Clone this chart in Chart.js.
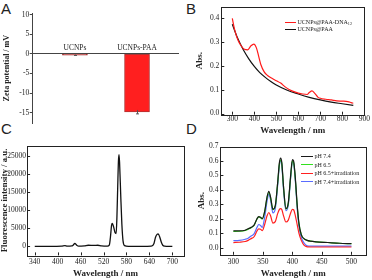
<!DOCTYPE html>
<html><head><meta charset="utf-8">
<script src="https://cdn.jsdelivr.net/npm/chart.js@4.4.1/dist/chart.umd.min.js"></script>
<style>
html,body{margin:0;padding:0;background:#fff;width:372px;height:280px;overflow:hidden}
.p{position:absolute}
.lbl{position:absolute;font-family:"Liberation Sans",Arial,sans-serif;font-size:15px;color:#222;line-height:1}
.leg{position:absolute;font-family:"Liberation Serif",serif;color:#222;line-height:1}
.leg .row{position:absolute;left:0;display:flex;align-items:center;white-space:nowrap}
.leg .ln{display:inline-block;height:0;border-top:1.3px solid;margin-right:1.5px}
.leg sub{font-size:0.7em;vertical-align:-0.15em;line-height:0}
</style></head><body>
<div class="lbl" style="left:1px;top:1px">A</div>
<div class="lbl" style="left:186px;top:1px">B</div>
<div class="lbl" style="left:1px;top:121px">C</div>
<div class="lbl" style="left:186px;top:121px">D</div>
<div class="p" style="left:0;top:0"><canvas id="cA" width="186" height="140"></canvas></div>
<div class="p" style="left:186px;top:0"><canvas id="cB" width="186" height="140"></canvas></div>
<div class="p" style="left:0;top:140px"><canvas id="cC" width="186" height="140"></canvas></div>
<div class="p" style="left:186px;top:140px"><canvas id="cD" width="186" height="140"></canvas></div>
<div class="leg" id="legB" style="left:285px;top:19px;font-size:6px"></div>
<div class="leg" id="legD" style="left:301px;top:153px;font-size:6px"></div>
<script>
// ---------- Panel A: zeta potential ----------
const zetaCategories = ['UCNPs', 'UCNPs-PAA'];
const zetaValues = [-0.3, -14.8];
const zetaErrors = [0.1, 0.5];
const zetaTicks = [10, 5, 0, -5, -10, -15];

// ---------- Panel B: absorption ----------
const absRedX = [300,310,325,340,355,370,385,398,410,420,430,445,460,480,500,520,540,560,580,600,620,640,650,662,675,690,700,725,750,775,800,825,840,850];
const absRedY = [0.40,0.355,0.31,0.285,0.27,0.268,0.285,0.292,0.275,0.24,0.205,0.175,0.16,0.148,0.138,0.128,0.112,0.10,0.092,0.086,0.082,0.080,0.088,0.095,0.085,0.068,0.064,0.060,0.057,0.053,0.052,0.050,0.046,0.043];
const absBlackX = [300,325,350,375,400,425,450,475,500,550,600,650,700,750,800,850];
const absBlackY = [0.375,0.315,0.268,0.23,0.198,0.172,0.152,0.135,0.12,0.098,0.082,0.068,0.057,0.048,0.041,0.034];
const absBLabels = ['UCNPs@PAA-DNA12', 'UCNPs@PAA'];
const absBXTicks = [300,400,500,600,700,800,900];
const absBYTicks = [0,0.1,0.2,0.3,0.4];

// ---------- Panel C: fluorescence ----------
const flX = [340,380,410,419,425,437,441,445,449,455,470,480,495,505,515,530,535,538,541,543,546,550,553,555,557,559,560.5,562,565,568,571,575,585,620,645,652,656,660,663,667,671,675,680,690,700];
const flY = [0,0,50,200,50,100,400,800,400,50,150,300,250,300,100,50,300,2500,5800,6300,5500,3800,3500,8000,16000,23500,25300,23000,14000,6000,1500,200,0,0,50,800,2500,3300,3400,2600,1200,300,50,0,0];
const flXTicks = [340,400,460,520,580,640,700];
const flYTicks = [0,5000,10000,15000,20000,25000];

// ---------- Panel D: pH absorption ----------
const phX = [300,310,320,325,330,335,340,343,346,349,353,357,360,363,367,371,375,378,380,382,385,389,393,397,400,402,405,408,411,415,420,425,430,440,460,480,500];
const ph74 = [.115,.115,.12,.13,.14,.155,.2,.215,.21,.2,.25,.35,.39,.35,.265,.29,.45,.59,.62,.59,.42,.27,.31,.5,.61,.6,.48,.3,.17,.09,.06,.05,.045,.04,.035,.03,.027];
const ph65 = [.112,.113,.118,.128,.138,.153,.198,.212,.207,.198,.248,.345,.383,.345,.262,.288,.445,.58,.605,.58,.415,.268,.305,.49,.6,.59,.47,.295,.168,.09,.06,.05,.045,.04,.035,.03,.027];
const ph65irr = [.035,.037,.042,.05,.062,.075,.115,.13,.127,.118,.16,.22,.243,.22,.17,.18,.235,.265,.27,.263,.22,.177,.19,.24,.265,.262,.22,.16,.1,.05,.015,.005,.004,.004,.004,.004,.004];
const ph74irr = [.048,.05,.058,.065,.08,.095,.14,.16,.153,.14,.21,.32,.37,.33,.24,.27,.43,.57,.6,.57,.4,.255,.295,.48,.595,.585,.46,.28,.15,.07,.03,.012,.01,.01,.01,.01,.01];
const phLabels = ['pH 7.4', 'pH 6.5', 'pH 6.5+irradiation', 'pH 7.4+irradiation'];
const phXTicks = [300,350,400,450,500];
const phYTicks = [0,0.1,0.2,0.3,0.4,0.5,0.6,0.7];

const SERIF = "'Liberation Serif','Times New Roman',serif";
Chart.defaults.font.family = SERIF;
Chart.defaults.color = '#222';
Chart.defaults.animation = false;
Chart.defaults.plugins.legend.display = false;
Chart.defaults.plugins.tooltip.enabled = false;

const pts = (xs, ys) => xs.map((x, i) => ({x, y: ys[i]}));
const setTicks = arr => s => { s.ticks = arr.map(v => ({value: v})); };

const framePlugin = {
  id: 'frame',
  afterDatasetsDraw(chart) {
    const {ctx, chartArea: a, scales: {x, y}} = chart;
    ctx.save();
    ctx.strokeStyle = '#222';
    ctx.lineWidth = 1;
    ctx.beginPath();
    x.ticks.forEach(t => { const p = Math.round(x.getPixelForValue(t.value)) + 0.5; ctx.moveTo(p, a.bottom); ctx.lineTo(p, a.bottom - 3); });
    y.ticks.forEach(t => { const p = Math.round(y.getPixelForValue(t.value)) + 0.5; ctx.moveTo(a.left, p); ctx.lineTo(a.left + 3, p); });
    ctx.stroke();
    ctx.strokeRect(Math.round(a.left) + 0.5, Math.round(a.top) + 0.5, Math.round(a.right - a.left), Math.round(a.bottom - a.top));
    ctx.restore();
  }
};

function frameScales(o) {
  return {
    x: {
      type: 'linear', min: o.xmin, max: o.xmax,
      afterBuildTicks: setTicks(o.xticks),
      afterFit: s => { s.height = o.xh; },
      grid: {display: false, drawTicks: false}, border: {display: false},
      ticks: {font: {size: 7.5}, padding: o.xpad, maxRotation: 0, autoSkip: false, color: '#222', callback: v => String(v)},
      title: {display: true, text: 'Wavelength / nm', font: {size: 9, weight: 'bold'}, color: '#222', padding: {top: 0, bottom: o.xtp}}
    },
    y: {
      type: 'linear', min: o.ymin, max: o.ymax,
      afterBuildTicks: setTicks(o.yticks),
      afterFit: s => { s.width = o.yw; },
      grid: {display: false, drawTicks: false}, border: {display: false},
      ticks: {font: {size: 7.5}, padding: o.ypad, autoSkip: false, color: '#222', callback: o.yfmt},
      title: {display: true, text: o.ytitle, font: {size: o.yts || 9, weight: 'bold'}, color: '#222', padding: {top: o.ytp, bottom: 0}}
    }
  };
}

// ---- A ----
const errPlugin = {
  id: 'err',
  afterDatasetsDraw(chart) {
    const {ctx, scales: {x, y}} = chart;
    ctx.save(); ctx.strokeStyle = '#555'; ctx.lineWidth = 1; ctx.beginPath();
    zetaValues.forEach((v, i) => {
      const px = Math.round(x.getPixelForValue(i + 1)) + 0.5;
      const y1 = y.getPixelForValue(v - zetaErrors[i]), y2 = y.getPixelForValue(v + zetaErrors[i]);
      ctx.moveTo(px, y1); ctx.lineTo(px, y2);
      ctx.moveTo(px - 1.5, y1); ctx.lineTo(px + 1.5, y1);
    });
    ctx.stroke(); ctx.restore();
  }
};
new Chart(document.getElementById('cA'), {
  type: 'bar',
  data: {datasets: [{
    data: zetaValues.map((v, i) => ({x: i + 1, y: v})),
    backgroundColor: ['#c43a3a', '#ff1f1f'],
    borderColor: ['#a02828', '#b03434'],
    borderWidth: 1, barThickness: 25, borderSkipped: false
  }]},
  options: {
    responsive: false,
    layout: {padding: {top: 13.1, right: 8, bottom: 16.7, left: 0}},
    scales: {
      x: {
        type: 'linear', position: {y: 0}, min: 0.32, max: 2.66, offset: false,
        afterBuildTicks: s => { s.ticks = zetaCategories.map((c, i) => ({value: i + 1})); },
        grid: {display: false, drawTicks: false, offset: false},
        border: {display: true, color: '#444', width: 1},
        ticks: {font: {size: 7.5}, padding: -10.5, color: '#222', autoSkip: false, maxRotation: 0,
          callback: v => zetaCategories[v - 1] || ''}
      },
      y: {
        type: 'linear', min: -17.7, max: 10.4,
        afterBuildTicks: setTicks(zetaTicks),
        afterFit: s => { s.width = 32.7; },
        grid: {drawOnChartArea: false, tickLength: 3, color: '#444'},
        border: {display: true, color: '#444', width: 1},
        ticks: {font: {size: 7.5}, padding: 0.5, color: '#222'},
        title: {display: true, text: 'Zeta potential / mV', font: {size: 8, weight: 'bold'}, color: '#222', padding: {top: 2.2, bottom: 0}}
      }
    }
  },
  plugins: [errPlugin]
});

// ---- B ----
const chartB = new Chart(document.getElementById('cB'), {
  type: 'line',
  data: {datasets: [
    {label: absBLabels[0], data: pts(absRedX, absRedY), borderColor: '#ff1a1a', borderWidth: 1.2, pointRadius: 0, cubicInterpolationMode: 'monotone'},
    {label: absBLabels[1], data: pts(absBlackX, absBlackY), borderColor: '#111', borderWidth: 1.2, pointRadius: 0, cubicInterpolationMode: 'monotone'}
  ]},
  options: {
    responsive: false,
    layout: {padding: {top: 2.8, right: 7.7, bottom: 0, left: 0}},
    scales: frameScales({xmin: 250, xmax: 900, xticks: absBXTicks, xh: 25.3, xpad: 0, xtp: 3.6,
      ymin: -0.005, ymax: 0.45, yticks: absBYTicks, yw: 35.3, ypad: 2, ytp: 8.2, ytitle: 'Abs.', yfmt: v => v.toFixed(1)})
  },
  plugins: [framePlugin]
});

// ---- C ----
new Chart(document.getElementById('cC'), {
  type: 'line',
  data: {datasets: [
    {label: 'Fluorescence', data: pts(flX, flY), borderColor: '#111', borderWidth: 1.3, pointRadius: 0, cubicInterpolationMode: 'monotone'}
  ]},
  options: {
    responsive: false,
    layout: {padding: {top: 1.6, right: 2.2, bottom: 0, left: 0}},
    scales: frameScales({xmin: 320, xmax: 730, xticks: flXTicks, xh: 24.6, xpad: 2.4, xtp: 1,
      ymin: -2500, ymax: 27800, yticks: flYTicks, yw: 27.1, ypad: 1, ytp: -0.9, yts: 8.8, ytitle: 'Fluorescence intensity / a.u.', yfmt: v => String(v)})
  },
  plugins: [framePlugin]
});

// ---- D ----
const chartD = new Chart(document.getElementById('cD'), {
  type: 'line',
  data: {datasets: [
    {label: phLabels[0], data: pts(phX, ph74), borderColor: '#1a1a1a', borderWidth: 1.2, pointRadius: 0, cubicInterpolationMode: 'monotone'},
    {label: phLabels[1], data: pts(phX, ph65), borderColor: '#33e01f', borderWidth: 1.2, pointRadius: 0, cubicInterpolationMode: 'monotone'},
    {label: phLabels[2], data: pts(phX, ph65irr), borderColor: '#ff2020', borderWidth: 1.2, pointRadius: 0, cubicInterpolationMode: 'monotone'},
    {label: phLabels[3], data: pts(phX, ph74irr), borderColor: '#5a6cff', borderWidth: 1.2, pointRadius: 0, cubicInterpolationMode: 'monotone'}
  ]},
  options: {
    responsive: false,
    layout: {padding: {top: 1.7, right: 5.8, bottom: 0, left: 0}},
    scales: frameScales({xmin: 278, xmax: 525, xticks: phXTicks, xh: 25.2, xpad: 2.4, xtp: 1.3,
      ymin: -0.05, ymax: 0.7, yticks: phYTicks, yw: 34.4, ypad: 2, ytp: 9.9, ytitle: 'Abs.', yfmt: v => v.toFixed(1)})
  },
  plugins: [framePlugin]
});

// ---- HTML legends built from the chart datasets ----
function buildLegend(chart, id, lineW, rowH) {
  const el = document.getElementById(id);
  chart.data.datasets.forEach((ds, i) => {
    const row = document.createElement('div');
    row.className = 'row';
    row.style.top = (i * rowH) + 'px';
    const ln = document.createElement('span');
    ln.className = 'ln';
    ln.style.width = lineW + 'px';
    ln.style.borderTopColor = ds.borderColor;
    row.appendChild(ln);
    const tx = document.createElement('span');
    const m = ds.label.match(/^(.*DNA)(\d+)$/);
    if (m) { tx.textContent = m[1]; const sb = document.createElement('sub'); sb.textContent = m[2]; tx.appendChild(sb); }
    else tx.textContent = ds.label;
    row.appendChild(tx);
    el.appendChild(row);
  });
}
buildLegend(chartB, 'legB', 11, 7);
buildLegend(chartD, 'legD', 12, 8.5);
</script>
</body></html>
